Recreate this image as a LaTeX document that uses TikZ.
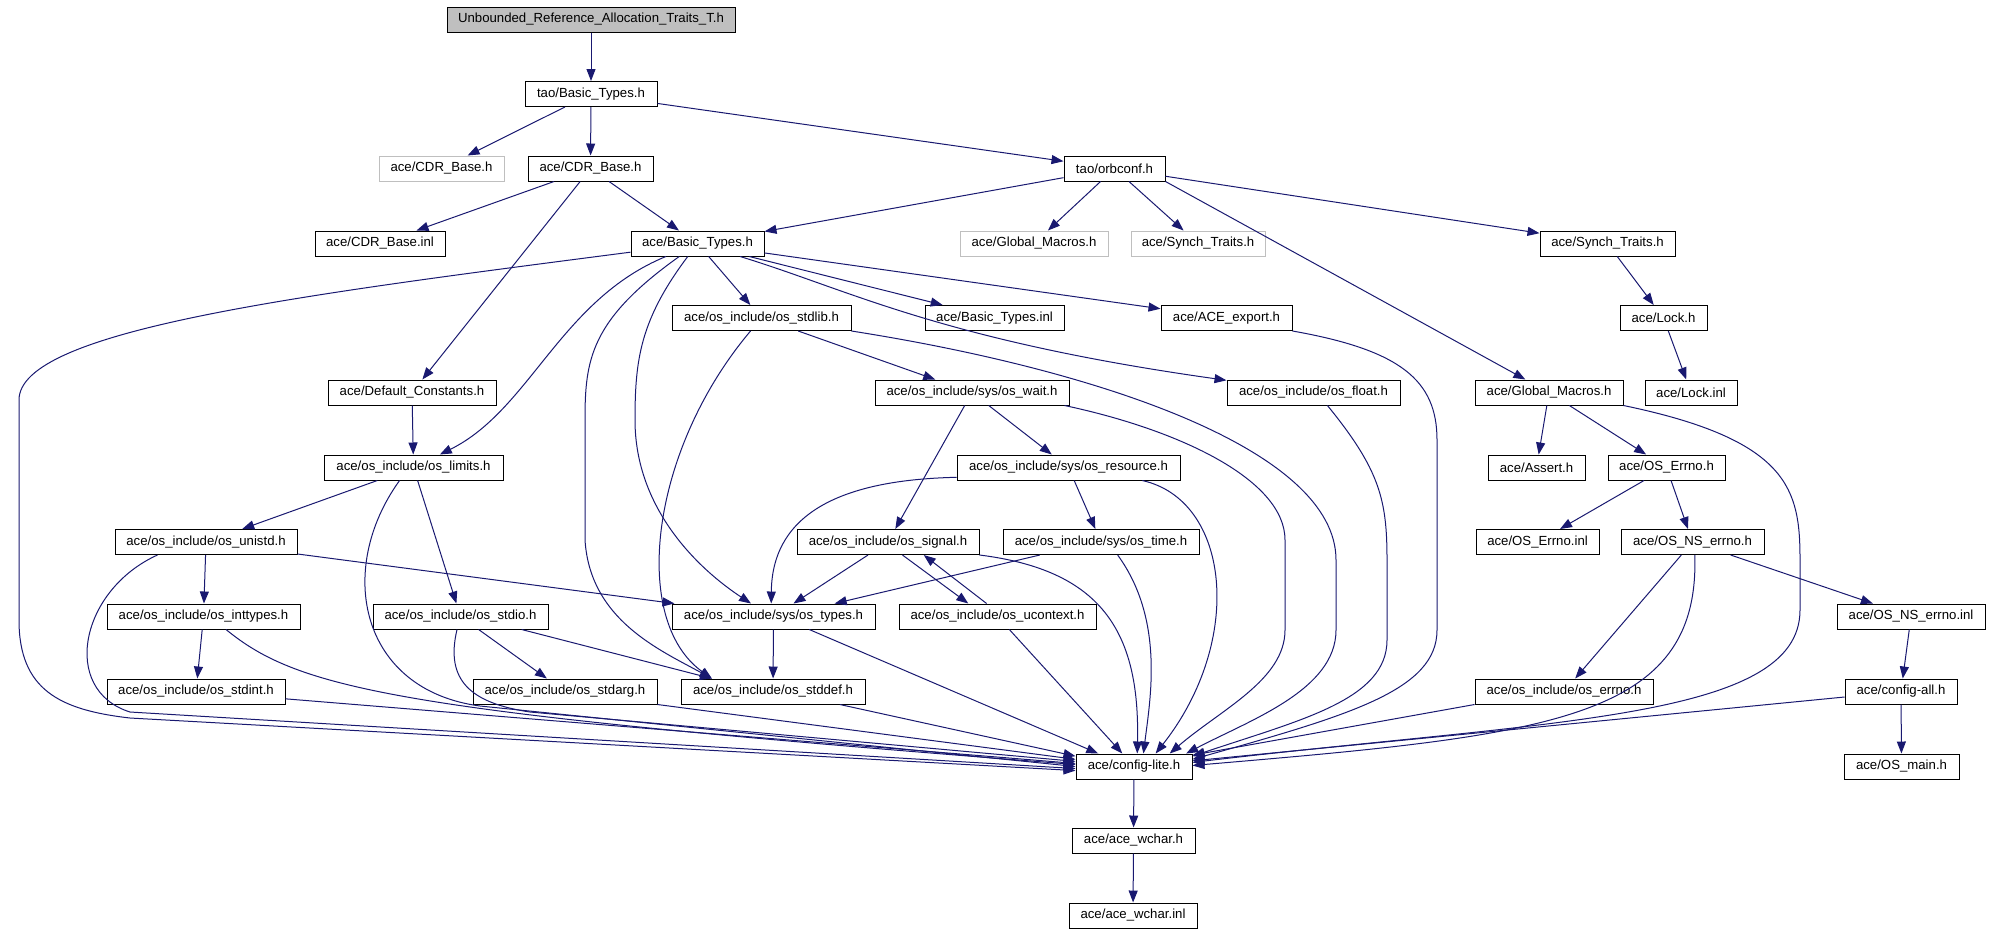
\documentclass[tikz,border=0pt]{standalone}
\usepackage{fontspec}
\setmainfont{Liberation Sans}
\usetikzlibrary{arrows.meta}
\definecolor{edgeblue}{HTML}{191970}
\definecolor{greyline}{HTML}{BFBFBF}
\newcommand{\hdrfont}{\fontsize{6.6}{8}\selectfont}

\begin{document}
\begin{tikzpicture}[x=0.5pt,y=-0.5pt]
\tikzstyle{every path}=[line width=0.5pt]

\edef\boxh{12.5pt}
\tikzstyle{hdr}=[draw,font=\hdrfont,inner sep=0pt,minimum height=\boxh]
\tikzstyle{hdrgrey}=[hdr,draw=greyline]
\tikzstyle{hdrtop}=[hdr,fill=greyline]
\tikzstyle{dep}=[draw=edgeblue,-{Triangle[length=6pt,width=4.5pt]}]

\useasboundingbox (0,0) rectangle (1989,933);

%% Draw header boxes, row by row
\node [hdrtop,minimum width=144pt] (top) at (591,19.5) {Unbounded\_Reference\_Allocation\_Traits\_T.h};
\node [hdr,minimum width=66pt] (taobt) at (591,94) {tao/Basic\_Types.h};
\node [hdrgrey,minimum width=62.5pt] (cdrg) at (441.5,168.5) {ace/CDR\_Base.h};
\node [hdr,minimum width=62.5pt] (cdr) at (590.5,168.5) {ace/CDR\_Base.h};
\node [hdr,minimum width=50.5pt] (orb) at (1114.5,168.5) {tao/orbconf.h};
\node [hdr,minimum width=65pt] (cdrinl) at (380,243.5) {ace/CDR\_Base.inl};
\node [hdr,minimum width=66.5pt] (bt) at (697.5,243.5) {ace/Basic\_Types.h};
\node [hdrgrey,minimum width=74pt] (gmg) at (1034,243.5) {ace/Global\_Macros.h};
\node [hdrgrey,minimum width=67pt] (stg) at (1198,243.5) {ace/Synch\_Traits.h};
\node [hdr,minimum width=67.5pt] (st) at (1607.5,243.5) {ace/Synch\_Traits.h};
\node [hdr,minimum width=89.5pt] (stdlib) at (761.5,318) {ace/os\_include/os\_stdlib.h};
\node [hdr,minimum width=69.5pt] (btinl) at (994.5,318) {ace/Basic\_Types.inl};
\node [hdr,minimum width=65.5pt] (exp) at (1226.5,318) {ace/ACE\_export.h};
\node [hdr,minimum width=43.5pt] (lock) at (1663.5,318) {ace/Lock.h};
\node [hdr,minimum width=84pt] (dc) at (412,392.5) {ace/Default\_Constants.h};
\node [hdr,minimum width=97pt] (wait) at (972,392.5) {ace/os\_include/sys/os\_wait.h};
\node [hdr,minimum width=86.5pt] (flt) at (1313.5,392.5) {ace/os\_include/os\_float.h};
\node [hdr,minimum width=74pt] (gm) at (1549,392.5) {ace/Global\_Macros.h};
\node [hdr,minimum width=46pt] (lockinl) at (1691,392.5) {ace/Lock.inl};
\node [hdr,minimum width=89.5pt] (lim) at (413.5,467.5) {ace/os\_include/os\_limits.h};
\node [hdr,minimum width=111.5pt] (res) at (1068.5,467.5) {ace/os\_include/sys/os\_resource.h};
\node [hdr,minimum width=48.5pt] (asrt) at (1536.5,467.5) {ace/Assert.h};
\node [hdr,minimum width=58.5pt] (err) at (1666.5,467.5) {ace/OS\_Errno.h};
\node [hdr,minimum width=91pt] (unistd) at (206,542) {ace/os\_include/os\_unistd.h};
\node [hdr,minimum width=91pt] (sig) at (888,542) {ace/os\_include/os\_signal.h};
\node [hdr,minimum width=98pt] (time) at (1101,542) {ace/os\_include/sys/os\_time.h};
\node [hdr,minimum width=61.5pt] (errinl) at (1537.5,542) {ace/OS\_Errno.inl};
\node [hdr,minimum width=71.5pt] (nserr) at (1692.5,542) {ace/OS\_NS\_errno.h};
\node [hdr,minimum width=96.5pt] (inttypes) at (203.5,616.5) {ace/os\_include/os\_inttypes.h};
\node [hdr,minimum width=87.5pt] (stdio) at (460.5,616.5) {ace/os\_include/os\_stdio.h};
\node [hdr,minimum width=101.5pt] (types) at (773.5,616.5) {ace/os\_include/sys/os\_types.h};
\node [hdr,minimum width=98.5pt] (uctx) at (997.5,616.5) {ace/os\_include/os\_ucontext.h};
\node [hdr,minimum width=74pt] (nserrinl) at (1911,616.5) {ace/OS\_NS\_errno.inl};
\node [hdr,minimum width=89pt] (stdint) at (196,691.5) {ace/os\_include/os\_stdint.h};
\node [hdr,minimum width=92pt] (stdarg) at (565,691.5) {ace/os\_include/os\_stdarg.h};
\node [hdr,minimum width=92pt] (stddef) at (773,691.5) {ace/os\_include/os\_stddef.h};
\node [hdr,minimum width=89pt] (errno) at (1564,691.5) {ace/os\_include/os\_errno.h};
\node [hdr,minimum width=56pt] (cfgall) at (1901,691.5) {ace/config-all.h};
\node [hdr,minimum width=58pt] (cl) at (1134,766.5) {ace/config-lite.h};
\node [hdr,minimum width=57.5pt] (main) at (1901.5,766.5) {ace/OS\_main.h};
\node [hdr,minimum width=61.5pt] (wch) at (1133.5,840.5) {ace/ace\_wchar.h};
\node [hdr,minimum width=64pt] (wchinl) at (1133,915.5) {ace/ace\_wchar.inl};

%% Draw include edges: top part
\draw[dep] (top) -- (taobt);
\draw[dep] (taobt) -- (cdrg);
\draw[dep] (taobt) -- (cdr);
\draw[dep] (taobt) -- (orb);
\draw[dep] (cdr) -- (cdrinl);
\draw[dep] (cdr) -- (dc);
\draw[dep] (cdr) -- (bt);
\draw[dep] (orb) -- (bt);
\draw[dep] (orb) -- (gmg);
\draw[dep] (orb) -- (stg);
\draw[dep] (orb) -- (st);
\draw[dep] (orb.south east) -- (gm);
\draw[dep] (st) -- (lock);
\draw[dep] (lock) -- (lockinl);

%% ace/Basic_Types.h
\draw[dep] (bt) .. controls (300,295) and (19,330) .. (19,400) -- (19,620) .. controls (19,690) and (60,710) .. (130,718) -- (cl.184);
\draw[dep] (bt) .. controls (560,300) and (530,410) .. (lim);
\draw[dep] (bt) .. controls (590,320) and (585,360) .. (585,420) -- (585,540) .. controls (590,620) and (660,650) .. (stddef.168);
\draw[dep] (bt) .. controls (640,320) and (635,360) .. (635,420) .. controls (635,510) and (700,570) .. (types.150);
\draw[dep] (bt) -- (stdlib);
\draw[dep] (bt) .. controls (850,290) and (940,340) .. (flt);
\draw[dep] (bt) -- (btinl);
\draw[dep] (bt) -- (exp);

%% stdlib, wait, resource
\draw[dep] (stdlib) -- (wait);
\draw[dep] (stdlib) .. controls (650,450) and (630,620) .. (stddef.168);
\draw[dep] (stdlib.south east) .. controls (1100,370) and (1336,450) .. (1336,560) -- (1336,630) .. controls (1336,690) and (1250,720) .. (cl.14);
\draw[dep] (wait) -- (res);
\draw[dep] (wait) -- (sig);
\draw[dep] (wait.-8) .. controls (1180,430) and (1285,480) .. (1285,540) -- (1285,630) .. controls (1285,680) and (1220,710) .. (cl.20);
\draw[dep] (res.185) .. controls (830,480) and (772,520) .. (types.100);
\draw[dep] (res) -- (time);
\draw[dep] (res.-10) .. controls (1230,500) and (1245,640) .. (cl.31);

%% time, signal, ucontext, types
\draw[dep] (time.192) -- (types.12);
\draw[dep] (time.-38) .. controls (1165,620) and (1150,700) .. (cl.54);
\draw[dep] (sig) -- (types);
\draw[dep] (sig.-42) -- (uctx.156);
\draw[dep] (sig.south east) .. controls (1100,570) and (1140,630) .. (cl.76);
\draw[dep] (uctx.130) -- (sig.-20);
\draw[dep] (uctx) -- (cl.132);
\draw[dep] (types) -- (stddef);
\draw[dep] (types.-20) -- (cl.160);

%% limits and friends
\draw[dep] (dc) -- (lim);
\draw[dep] (lim) -- (unistd);
\draw[dep] (lim) -- (stdio);
\draw[dep] (lim.-137) .. controls (335,570) and (360,690) .. (480,706) -- (cl.180);
\draw[dep] (unistd) -- (inttypes);
\draw[dep] (unistd) -- (types);
\draw[dep] (unistd.-165) .. controls (80,590) and (60,690) .. (130,712) -- (cl.182);
\draw[dep] (inttypes) -- (stdint);
\draw[dep] (inttypes.-30) .. controls (300,690) and (400,712) .. (cl.178);
\draw[dep] (stdint) -- (cl.177);
\draw[dep] (stdio) -- (stdarg);
\draw[dep] (stdio.-12) -- (stddef.168);
\draw[dep] (stdio.-105) .. controls (445,680) and (470,703) .. (530,712) -- (cl.175);
\draw[dep] (stdarg.south east) -- (cl.173);
\draw[dep] (stddef.-11) -- (cl.170);

%% right part
\draw[dep] (flt.-43) .. controls (1380,470) and (1387,500) .. (1387,560) -- (1387,640) .. controls (1387,700) and (1300,720) .. (cl.10);
\draw[dep] (exp.south east) .. controls (1400,350) and (1437,380) .. (1437,440) -- (1437,630) .. controls (1437,690) and (1350,715) .. (cl.7);
\draw[dep] (gm) -- (asrt);
\draw[dep] (gm) -- (err);
\draw[dep] (gm.south east) .. controls (1790,440) and (1800,490) .. (1800,560) -- (1800,610) .. controls (1800,720) and (1550,720) .. (cl.4);
\draw[dep] (err) -- (errinl);
\draw[dep] (err) -- (nserr);
\draw[dep] (nserr) -- (errno);
\draw[dep] (nserr) -- (nserrinl);
\draw[dep] (nserr.-80) .. controls (1700,720) and (1550,735) .. (cl.1);
\draw[dep] (errno.south west) -- (cl.11);
\draw[dep] (nserrinl) -- (cfgall);
\draw[dep] (cfgall) -- (main);
\draw[dep] (cfgall) -- (cl);
\draw[dep] (cl) -- (wch);
\draw[dep] (wch) -- (wchinl);
\end{tikzpicture}
\end{document}
